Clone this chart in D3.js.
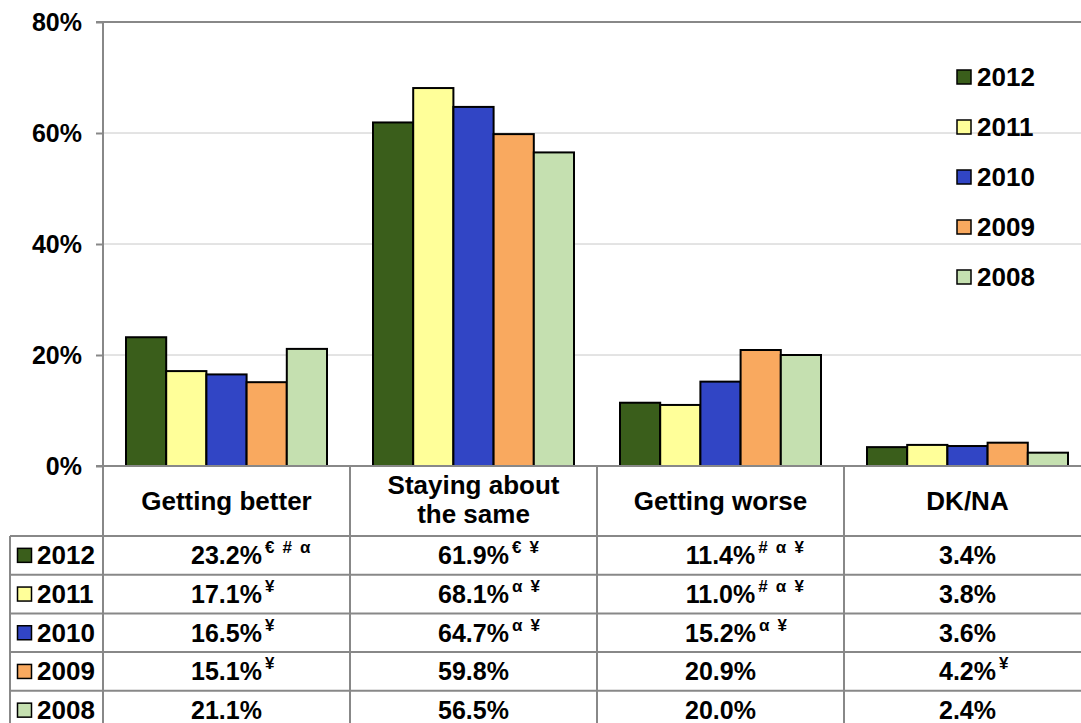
<!DOCTYPE html>
<html>
<head>
<meta charset="utf-8">
<script src="https://cdn.jsdelivr.net/npm/d3@7"></script>
<style>
  body { margin: 0; background: #fff; }
  svg text { font-family: "Liberation Sans", Arial, sans-serif; font-weight: bold; fill: #000; }
</style>
</head>
<body>
<div id="chart"></div>
<script>
var categories = ["Getting better", "Staying about|the same", "Getting worse", "DK/NA"];
var years = ["2012", "2011", "2010", "2009", "2008"];
var colors = ["#3a5e1b", "#ffff99", "#3145c5", "#f9a95f", "#c5e0b0"];
var v2012 = [23.2, 61.9, 11.4, 3.4];
var v2011 = [17.1, 68.1, 11.0, 3.8];
var v2010 = [16.5, 64.7, 15.2, 3.6];
var v2009 = [15.1, 59.8, 20.9, 4.2];
var v2008 = [21.1, 56.5, 20.0, 2.4];
var sup2012 = ["€ # α", "€ ¥", "# α ¥", ""];
var sup2011 = ["¥", "α ¥", "# α ¥", ""];
var sup2010 = ["¥", "α ¥", "α ¥", ""];
var sup2009 = ["¥", "", "", "¥"];
var sup2008 = ["", "", "", ""];
var yTicks = [0, 20, 40, 60, 80];

var series = [v2012, v2011, v2010, v2009, v2008];
var sups = [sup2012, sup2011, sup2010, sup2009, sup2008];

var W = 1081, H = 723;
var svg = d3.select("#chart").append("svg").attr("width", W).attr("height", H);

var x0 = d3.scaleBand().domain(categories).range([103, 1091]);
var x1 = d3.scaleBand().domain(years).range([23, 224]);
var y = d3.scaleLinear().domain([0, 80]).range([466, 22]);

// gridlines
svg.append("g").selectAll("line").data([20, 40, 60]).enter().append("line")
  .attr("x1", 103).attr("x2", W).attr("y1", function(d){ return y(d); }).attr("y2", function(d){ return y(d); })
  .attr("stroke", "#c8c8c8").attr("stroke-width", 1);

// y axis
var yAxis = d3.axisLeft(y).tickValues(yTicks).tickSize(7).tickFormat(function(d){ return d + "%"; });
var ya = svg.append("g").attr("transform", "translate(103,0)").call(yAxis);
ya.select(".domain").remove();
ya.selectAll("line").attr("stroke", "#888").attr("stroke-width", 2);
ya.selectAll("text").attr("x", -21).attr("dy", "0.33em").style("font-size", "25px")
  .style("font-family", "Liberation Sans, Arial, sans-serif").style("font-weight", "bold");
svg.append("line").attr("x1", 103).attr("x2", 103).attr("y1", y(80)).attr("y2", y(0)).attr("stroke", "#888").attr("stroke-width", 2);

// top border
svg.append("line").attr("x1", 96).attr("x2", W).attr("y1", y(80)).attr("y2", y(80)).attr("stroke", "#888").attr("stroke-width", 2);

// bars
categories.forEach(function(c, ci){
  var g = svg.append("g").attr("transform", "translate(" + x0(c) + ",0)");
  g.selectAll("rect").data(years).enter().append("rect")
    .attr("x", function(d){ return x1(d); })
    .attr("y", function(d, i){ return y(series[i][ci]); })
    .attr("width", x1.bandwidth())
    .attr("height", function(d, i){ return y(0) - y(series[i][ci]); })
    .attr("fill", function(d, i){ return colors[i]; })
    .attr("stroke", "#000").attr("stroke-width", 2);
});

// table
var headerBottom = 536, rowH = 38.7;
var tbl = svg.append("g");
tbl.selectAll(".hv").data(categories).enter().append("line")
  .attr("x1", function(d){ return x0(d); }).attr("x2", function(d){ return x0(d); })
  .attr("y1", 466).attr("y2", H)
  .attr("stroke", "#888").attr("stroke-width", 2);
tbl.append("line").attr("x1", 10).attr("x2", 10).attr("y1", headerBottom).attr("y2", H).attr("stroke", "#888").attr("stroke-width", 2);
tbl.selectAll(".hl").data(d3.range(6)).enter().append("line")
  .attr("x1", 10).attr("x2", W)
  .attr("y1", function(d){ return headerBottom + d * rowH; }).attr("y2", function(d){ return headerBottom + d * rowH; })
  .attr("stroke", "#888").attr("stroke-width", 2);
svg.append("line").attr("x1", 96).attr("x2", W).attr("y1", y(0)).attr("y2", y(0)).attr("stroke", "#888").attr("stroke-width", 2);

// headers
categories.forEach(function(c){
  var lines = c.split("|");
  var cx = x0(c) + x0.bandwidth() / 2;
  var t = tbl.append("text").attr("text-anchor", "middle").style("font-size", "26px");
  lines.forEach(function(l, li){
    var yy = lines.length === 1 ? 510 : 494 + li * 29;
    t.append("tspan").attr("x", cx).attr("y", yy).text(l);
  });
});

// rows
years.forEach(function(yr, ri){
  var cy = headerBottom + ri * rowH + rowH / 2;
  tbl.append("rect").attr("x", 17.5).attr("y", cy - 7).attr("width", 14).attr("height", 14)
    .attr("fill", colors[ri]).attr("stroke", "#000").attr("stroke-width", 1.5);
  tbl.append("text").attr("x", 37).attr("y", cy + 9).style("font-size", "26px").text(yr);
  categories.forEach(function(c, ci){
    var cx = x0(c) + x0.bandwidth() / 2;
    var t = tbl.append("text").attr("x", cx).attr("y", cy + 9).attr("text-anchor", "middle")
      .style("font-size", "25px").text(series[ri][ci].toFixed(1) + "%");
    var w = t.node().getComputedTextLength();
    if (sups[ri][ci]) {
      tbl.append("text").attr("x", cx + w / 2 + 3).attr("y", cy - 2)
        .style("font-size", "17px").text(sups[ri][ci].replace(/ /g, "\u00a0\u2009"));
    }
  });
});

// legend
var leg = svg.append("g");
years.forEach(function(yr, i){
  var cy = 77 + i * 50;
  leg.append("rect").attr("x", 957).attr("y", cy - 7).attr("width", 14).attr("height", 14)
    .attr("fill", colors[i]).attr("stroke", "#000").attr("stroke-width", 1.5);
  leg.append("text").attr("x", 977).attr("y", cy + 9).style("font-size", "26px").text(yr);
});
</script>
</body>
</html>
